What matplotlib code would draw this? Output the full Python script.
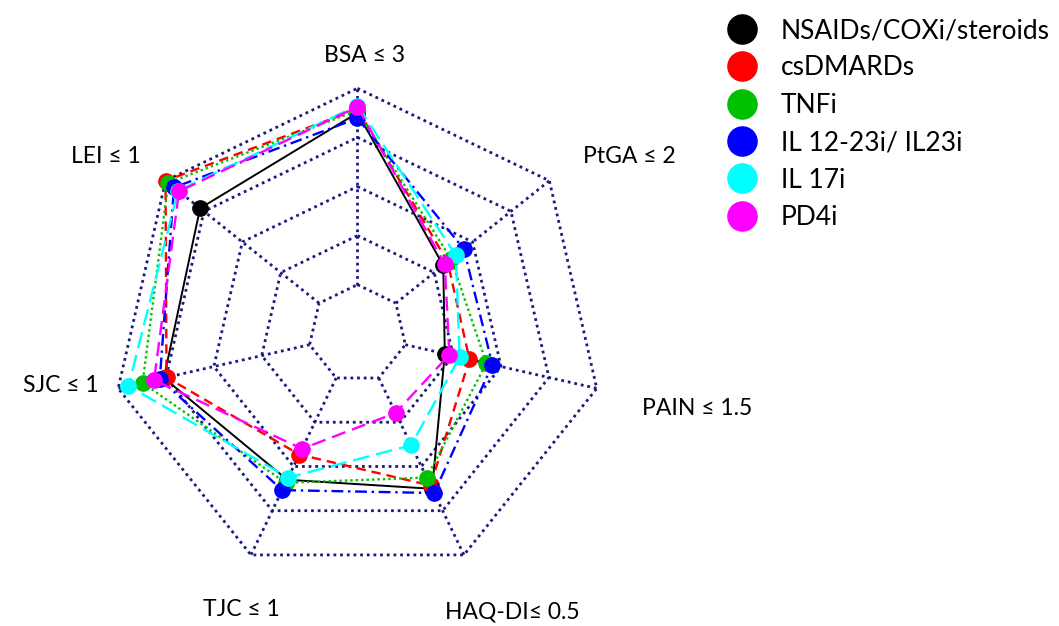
import numpy as np
import matplotlib.pyplot as plt
from matplotlib.lines import Line2D

plt.rcParams['font.family'] = ['Lato', 'DejaVu Sans']

# axes, clockwise from the top
axes_labels = ['BSA \u2264 3', 'PtGA \u2264 2', 'PAIN \u2264 1.5', 'HAQ-DI\u2264 0.5',
               'TJC \u2264 1', 'SJC \u2264 1', 'LEI \u2264 1']

groups = ['NSAIDs/COXi/steroids', 'csDMARDs', 'TNFi', 'IL 12-23i/ IL23i', 'IL 17i', 'PD4i']

# % of patients reaching each target
nsaids = [90.0, 44.7, 36.5, 70.1, 66.0, 80.9, 82.0]
csdmards = [91.5, 47.0, 46.8, 68.6, 54.6, 79.8, 100.0]
tnfi = [91.0, 48.8, 53.9, 65.0, 67.4, 89.8, 98.6]
il23 = [87.8, 55.4, 56.4, 72.0, 70.7, 82.6, 95.6]
il17 = [93.0, 51.3, 42.7, 50.4, 65.0, 95.7, 93.5]
pd4 = [92.5, 45.5, 38.4, 35.8, 52.0, 85.0, 93.0]

rings = [20, 40, 60, 80, 100]

series = [nsaids, csdmards, tnfi, il23, il17, pd4]
colors = ['#000000', '#ff0000', '#00c000', '#0000ff', '#00ffff', '#ff00ff']
styles = ['-', (0, (4, 2.5)), (0, (1, 1.3)), (0, (5, 2, 1, 2)), (0, (7, 3)), (0, (6, 3))]
widths = [1.4, 1.7, 1.7, 1.7, 1.7, 1.7]

# label offsets (pixels) from the outer vertex of each axis
label_off = [(7, 33), (80, 24), (100, -20), (48, -57), (-10, -55), (-57, 3), (-60, 24)]

n = len(axes_labels)
theta = np.linspace(0, 2 * np.pi, n, endpoint=False)
theta_c = np.append(theta, theta[0])

fig = plt.figure(figsize=(10.59, 6.26), dpi=100)
ax = fig.add_axes([0.0826, 0.0355, 0.5099, 0.8626], projection='polar')
ax.set_theta_offset(np.pi / 2)
ax.set_theta_direction(-1)
ax.set_ylim(0, 110)
ax.axis('off')

grid_col = '#1a1a80'
for r in rings:
    ax.plot(theta_c, [r] * (n + 1), color=grid_col, lw=2.0,
            ls=(0, (1, 1.4)), dash_capstyle='butt', zorder=1)
for t in theta:
    ax.plot([t, t], [rings[0], rings[-1]], color=grid_col, lw=2.0,
            ls=(0, (1, 1.4)), dash_capstyle='butt', zorder=1)

for i, vals in enumerate(series):
    v = np.append(vals, vals[0])
    ax.plot(theta_c, v, color=colors[i], ls=styles[i], lw=widths[i],
            zorder=2 + i, clip_on=False)
    ax.plot(theta, vals, ls='none', marker='o', ms=11, color=colors[i],
            zorder=2 + i, clip_on=False)

for t, lab, off in zip(theta, axes_labels, label_off):
    ax.annotate(lab, xy=(t, rings[-1]), xytext=off, textcoords='offset pixels',
                ha='center', va='center', fontsize=16.5, annotation_clip=False)

handles = [Line2D([], [], ls='none', marker='o', ms=21, color=c) for c in colors]
fig.legend(handles, groups, loc='upper left', bbox_to_anchor=(729 / 1059, 1 - 18 / 626),
           frameon=False, fontsize=19, handlelength=1.0, handletextpad=0.97,
           labelspacing=0.47, borderpad=0, borderaxespad=0)

fig.savefig('out.png', dpi=100)
